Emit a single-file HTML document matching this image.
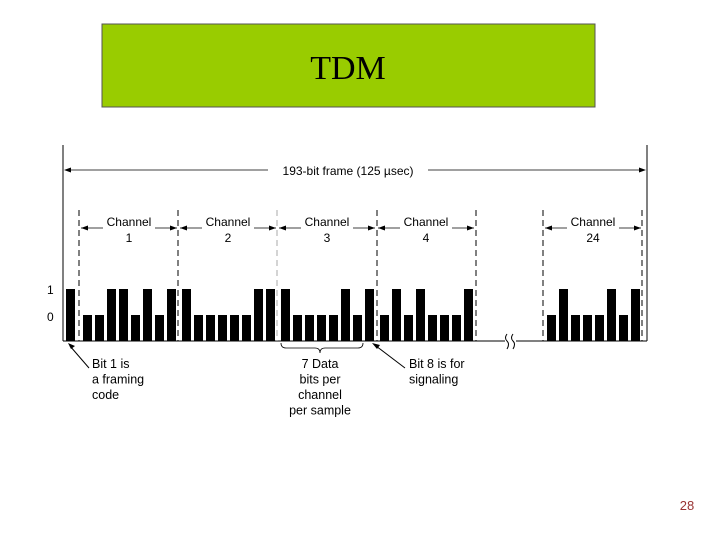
<!DOCTYPE html>
<html><head><meta charset="utf-8"><style>
body{margin:0;width:720px;height:540px;background:#fff;overflow:hidden}
svg{font-family:"Liberation Sans",sans-serif}
</style></head><body>
<svg id="c" width="720" height="540">
<rect x="102" y="24" width="493" height="83" fill="#99cc00" stroke="#555" stroke-width="1"/>
<text x="348" y="79" font-family="Liberation Serif,serif" font-size="34" text-anchor="middle">TDM</text>
<g id="frame" stroke="#000" fill="none"></g>
<text x="687" y="510" font-size="13" fill="#993333" text-anchor="middle">28</text>
</svg>
<script>
const channelLabels=["1","2","3","4","24"];
const channelBits=[[0,0,1,1,0,1,0,1],[1,0,0,0,0,0,1,1],[1,0,0,0,0,1,0,1],[0,1,0,1,0,0,0,1],[0,1,0,0,0,1,0,1]];
const framingBit=1;
const chStarts=[80,179,278,377,544];
const ns="http://www.w3.org/2000/svg";
const svg=document.getElementById('c');
function mk(t,a,txt){const e=document.createElementNS(ns,t);for(const k in a)e.setAttribute(k,a[k]);if(txt!==undefined)e.textContent=txt;svg.appendChild(e);return e;}
const yBase=341,yTall=289,yShort=315;
function yv(b){return b?yTall:yShort;}
let e;
e=mk('line',{x1:63,y1:145,x2:63,y2:341,stroke:'#000'});


e=mk('line',{x1:647,y1:145,x2:647,y2:341,stroke:'#000'});


e=mk('line',{x1:63,y1:341,x2:505,y2:341,stroke:'#000'});


e=mk('line',{x1:516,y1:341,x2:647,y2:341,stroke:'#000'});


e=mk('path',{d:'M507 334 q-3 4 0 7 q3 3 0 8 M513 334 q-3 4 0 7 q3 3 0 8',stroke:'#000',fill:'none'});


e=mk('line',{x1:66,y1:170,x2:268,y2:170,stroke:'#000','stroke-width':0.8});


e=mk('line',{x1:428,y1:170,x2:644,y2:170,stroke:'#000','stroke-width':0.8});


mk('path',{d:'M64 170 l7 -2.5 v5 z',fill:'#000'});
mk('path',{d:'M646 170 l-7 -2.5 v5 z',fill:'#000'});
e=mk('text',{x:348,y:175,'font-size':12,'text-anchor':'middle'},'193-bit frame  (125 µsec)');


const seps=[79,178,277,377,476,543,642];
seps.forEach((x,i)=>{e=mk('line',{x1:x,y1:210,x2:x,y2:341,stroke:i==2?'#aaa':'#000','stroke-dasharray':'6,4','stroke-width':1});

});
e=mk('text',{x:47,y:294,'font-size':12},'1');


e=mk('text',{x:47,y:321,'font-size':12},'0');


e=mk('rect',{x:66,y:yv(framingBit),width:9,height:yBase-yv(framingBit),fill:'#000'});


channelBits.forEach((bits,c)=>{
  const s=chStarts[c];
  const l=s+1,r=s+97,cx=(l+r)/2;
  e=mk('line',{x1:l,y1:228,x2:r,y2:228,stroke:'#000','stroke-width':0.8});
  
  
  mk('path',{d:`M${l} 228 l7 -2.5 v5 z`,fill:'#000'});
  mk('path',{d:`M${r} 228 l-7 -2.5 v5 z`,fill:'#000'});
  e=mk('rect',{x:cx-26,y:215,width:52,height:28,fill:'#fff'});
  e=mk('text',{x:cx,y:226,'font-size':12,'text-anchor':'middle'},'Channel');
  
  
  e=mk('text',{x:cx,y:242,'font-size':12,'text-anchor':'middle'},channelLabels[c]);
  
  
  bits.forEach((b,i)=>{
    e=mk('rect',{x:s+3+i*12,y:yv(b),width:9,height:yBase-yv(b),fill:'#000'});
    
    
  });
});
mk('line',{x1:89,y1:368,x2:70,y2:346,stroke:'#000'});
mk('path',{d:'M68 343 l7 3 l-4 3 z',fill:'#000'});
mk('line',{x1:405,y1:368,x2:376,y2:346,stroke:'#000'});
mk('path',{d:'M372 343 l8 2 l-3 4 z',fill:'#000'});
e=mk('path',{d:'M281 343 q0 5 5 5 h29 q5 0 5 5 q0 -5 5 -5 h33 q5 0 5 -5',stroke:'#000',fill:'none','stroke-width':0.8});


function lines(x,y0,arr,anchor,name){arr.forEach((t,i)=>{e=mk('text',{x:x,y:y0+i*15.5,'font-size':12.5,'text-anchor':anchor},t);

});}
lines(92,368,['Bit 1 is','a framing','code'],'start','framing-note');
lines(320,368,['7 Data','bits per','channel','per sample'],'middle','data-bits-note');
lines(409,368,['Bit 8 is for','signaling'],'start','signaling-note');
</script>
</body></html>
